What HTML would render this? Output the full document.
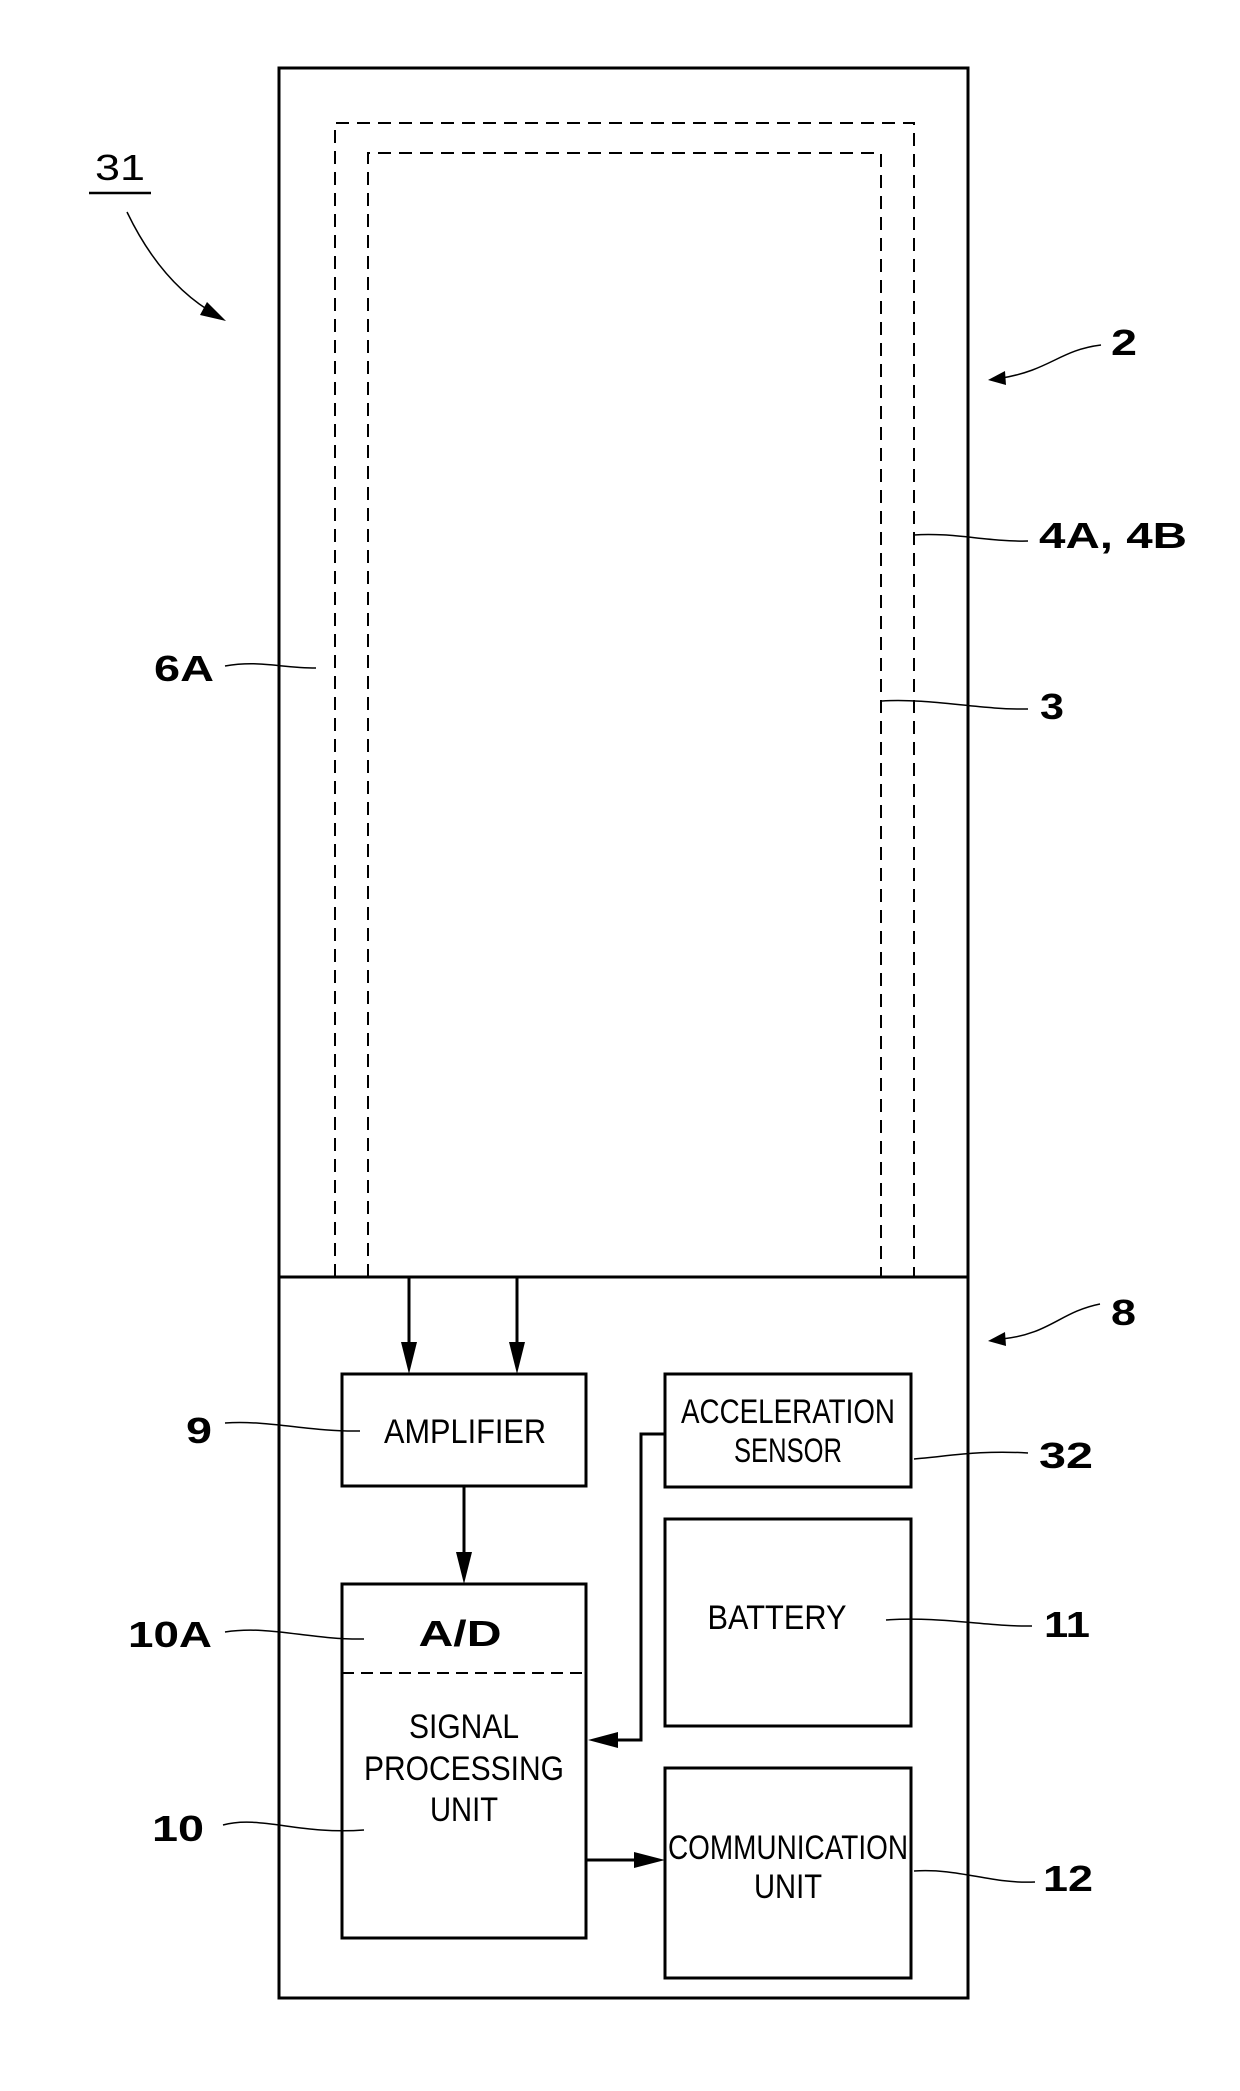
<!DOCTYPE html>
<html><head><meta charset="utf-8"><style>html,body{margin:0;padding:0;background:#fff}svg{display:block}</style></head>
<body>
<svg width="1240" height="2091" viewBox="0 0 1240 2091" xmlns="http://www.w3.org/2000/svg" font-family="Liberation Sans, sans-serif">
<defs>
<marker id="ah" markerWidth="10" markerHeight="10" refX="10" refY="5" orient="auto" markerUnits="userSpaceOnUse" viewBox="0 0 10 10" style="overflow:visible">
<path d="M0,0 L10,5 L0,10 z" fill="#000" transform="scale(2.8,1.5) translate(-6.4,-1.67)"/>
</marker>
</defs>
<g fill="none" stroke="#000">
<!-- outer -->
<rect x="279" y="68" width="689" height="1930" stroke-width="3"/>
<line x1="279" y1="1277" x2="968" y2="1277" stroke-width="3"/>
<!-- dashed -->
<path d="M335,1277 V123 H914 V1277" stroke-width="2" stroke-dasharray="13,8"/>
<path d="M368,1277 V153 H881 V1277" stroke-width="2" stroke-dasharray="13,8"/>
<!-- boxes -->
<rect x="342" y="1374" width="244" height="112" stroke-width="3"/>
<rect x="665" y="1374" width="246" height="113" stroke-width="3"/>
<rect x="665" y="1519" width="246" height="207" stroke-width="3"/>
<rect x="665" y="1768" width="246" height="210" stroke-width="3"/>
<rect x="342" y="1584" width="244" height="354" stroke-width="3"/>
<line x1="342" y1="1673" x2="586" y2="1673" stroke-width="2" stroke-dasharray="12,7"/>
<!-- connectors -->
<line x1="409" y1="1277" x2="409" y2="1345" stroke-width="3"/>
<line x1="517" y1="1277" x2="517" y2="1345" stroke-width="3"/>
<line x1="464" y1="1486" x2="464" y2="1555" stroke-width="3"/>
<polyline points="665,1434 641,1434 641,1740 612,1740" stroke-width="3"/>
<line x1="586" y1="1860" x2="638" y2="1860" stroke-width="3"/>
<!-- leaders -->
<g stroke-width="1.5">
<path d="M127,212 C150,260 180,295 218,316"/>
<path d="M1101,345 C1060,350 1050,370 1002,378"/>
<path d="M1100,1304 C1060,1312 1050,1334 1002,1339"/>
<path d="M914,535 C950,532 990,542 1028,541"/>
<path d="M225,666 C260,660 280,668 316,668"/>
<path d="M882,701 C930,698 980,710 1028,709"/>
<path d="M225,1423 C270,1420 310,1432 360,1431"/>
<path d="M914,1459 C950,1456 980,1450 1028,1453"/>
<path d="M886,1620 C940,1616 990,1627 1032,1626"/>
<path d="M225,1632 C270,1625 310,1640 364,1639"/>
<path d="M223,1825 C260,1815 300,1835 364,1830"/>
<path d="M914,1871 C960,1868 990,1884 1035,1882"/>
</g>
<line x1="89" y1="193" x2="151" y2="193" stroke-width="2.5"/>
</g>
<!-- arrowheads -->
<g fill="#000">
<path d="M401,1342 L417,1342 L409,1374 z"/>
<path d="M509,1342 L525,1342 L517,1374 z"/>
<path d="M456,1552 L472,1552 L464,1584 z"/>
<path d="M618,1732 L618,1748 L588,1740 z"/>
<path d="M634,1852 L634,1868 L665,1860 z"/>
<path d="M207,302 L226,321 L200,315 z"/>
<path d="M1005,371 L1006,385 L988,380 z"/>
<path d="M1005,1332 L1006,1346 L988,1341 z"/>
</g>
<!-- box text -->
<g font-size="34" text-anchor="middle" fill="#000">
<text x="465" y="1443" textLength="162" lengthAdjust="spacingAndGlyphs">AMPLIFIER</text>
<text x="788" y="1423" textLength="214" lengthAdjust="spacingAndGlyphs">ACCELERATION</text>
<text x="788" y="1462" textLength="108" lengthAdjust="spacingAndGlyphs">SENSOR</text>
<text x="777" y="1629" textLength="139" lengthAdjust="spacingAndGlyphs">BATTERY</text>
<text x="464" y="1738" textLength="110" lengthAdjust="spacingAndGlyphs">SIGNAL</text>
<text x="464" y="1780" textLength="200" lengthAdjust="spacingAndGlyphs">PROCESSING</text>
<text x="464" y="1821" textLength="68" lengthAdjust="spacingAndGlyphs">UNIT</text>
<text x="788" y="1859" textLength="240" lengthAdjust="spacingAndGlyphs">COMMUNICATION</text>
<text x="788" y="1898" textLength="68" lengthAdjust="spacingAndGlyphs">UNIT</text>
</g>
<!-- labels -->
<g font-size="36" font-weight="bold" fill="#000">
<text x="460" y="1646" text-anchor="middle" textLength="83" lengthAdjust="spacingAndGlyphs">A/D</text>
<text x="95" y="180" textLength="50" lengthAdjust="spacingAndGlyphs" font-weight="normal">31</text>
<text x="1111" y="355" textLength="26" lengthAdjust="spacingAndGlyphs">2</text>
<text x="1039" y="548" textLength="148" lengthAdjust="spacingAndGlyphs">4A, 4B</text>
<text x="154" y="681" textLength="60" lengthAdjust="spacingAndGlyphs">6A</text>
<text x="1040" y="719" textLength="24" lengthAdjust="spacingAndGlyphs">3</text>
<text x="1111" y="1325" textLength="25" lengthAdjust="spacingAndGlyphs">8</text>
<text x="186" y="1443" textLength="26" lengthAdjust="spacingAndGlyphs">9</text>
<text x="1039" y="1468" textLength="54" lengthAdjust="spacingAndGlyphs">32</text>
<text x="1044" y="1637" textLength="46" lengthAdjust="spacingAndGlyphs">11</text>
<text x="128" y="1647" textLength="84" lengthAdjust="spacingAndGlyphs">10A</text>
<text x="152" y="1841" textLength="52" lengthAdjust="spacingAndGlyphs">10</text>
<text x="1043" y="1891" textLength="50" lengthAdjust="spacingAndGlyphs">12</text>
</g>
</svg>
</body></html>
